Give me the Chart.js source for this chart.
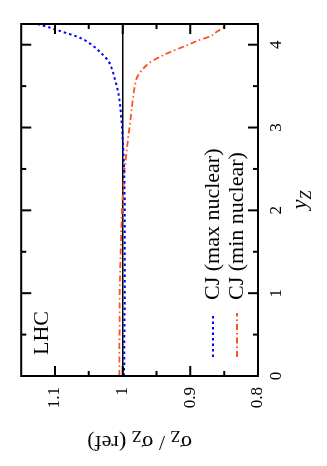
<!DOCTYPE html>
<html>
<head>
<meta charset="utf-8">
<script src="https://cdn.jsdelivr.net/npm/chart.js"></script>
<style>
  html, body { margin: 0; padding: 0; background: #fff; overflow: hidden; }
  body { width: 327px; height: 466px; position: relative; }
  /* the plot is drawn landscape and turned a quarter to the left */
  #wrap {
    position: absolute; left: 0; top: 0; width: 466px; height: 327px;
    transform-origin: 0 0; transform: translate(0, 466px) rotate(-90deg);
  }
</style>
</head>
<body>
<div id="wrap"><canvas id="ratioChart" width="466" height="327"></canvas></div>

<script>
    // rapidity points and the two ratio curves
    var yZ = [0, 0.5, 1, 1.5, 2, 2.5, 3, 3.2, 3.4, 3.5, 3.6, 3.7, 3.8, 3.9, 4.0, 4.05, 4.1, 4.15, 4.2, 4.25];
    var maxNuclear = [0.998, 0.9975, 0.997, 0.997, 0.997, 0.998, 1.001, 1.003, 1.006, 1.0088, 1.012, 1.0156, 1.021, 1.032, 1.046, 1.055, 1.068, 1.087, 1.105, 1.126];
    var minNuclear = [1.005, 1.0047, 1.0044, 1.003, 1.001, 0.997, 0.990, 0.987, 0.984, 0.982, 0.979, 0.971, 0.957, 0.933, 0.903, 0.889, 0.871, 0.862, 0.853, 0.846];

    var xTicks = [0, 1, 2, 3, 4];
    var xTickLabels = ['0', '1', '2', '3', '4'];
    var xMinor = [0.5, 1.5, 2.5, 3.5];
    var yTicks = [0.8, 0.9, 1, 1.1];
    var yTickLabels = ['0.8', '0.9', '1', '1.1'];
    var yMinor = [0.85, 0.95, 1.05];

    var seriesNames = ['CJ (max nuclear)', 'CJ (min nuclear)'];
    var serif = "'Liberation Serif', 'Times New Roman', serif";

    function pts(vals) {
        return yZ.map(function (v, i) { return { x: v, y: vals[i] }; });
    }

    // text with a subscript, pieces = [[text, isSub], ...]
    function drawPieces(ctx, pieces, x, y, size, subSize, italic, align) {
        var st = italic ? 'italic ' : '';
        var total = 0;
        pieces.forEach(function (p) {
            ctx.font = st + (p[1] ? subSize : size) + 'px ' + serif;
            total += ctx.measureText(p[0]).width;
        });
        var cx = align === 'center' ? x - total / 2 : x;
        pieces.forEach(function (p) {
            ctx.font = st + (p[1] ? subSize : size) + 'px ' + serif;
            ctx.fillText(p[0], cx, y + (p[1] ? 5 : 0));
            cx += ctx.measureText(p[0]).width;
        });
    }

    var framePlugin = {
        id: 'frame',
        afterDraw: function (chart) {
            var ctx = chart.ctx, a = chart.chartArea;
            var x = chart.scales.x, y = chart.scales.y;
            ctx.save();
            ctx.strokeStyle = '#000';
            ctx.lineWidth = 2;
            ctx.setLineDash([]);
            ctx.strokeRect(a.left, a.top, a.right - a.left, a.bottom - a.top);

            // inward ticks on all four sides
            ctx.beginPath();
            xTicks.concat(xMinor).forEach(function (v) {
                var px = x.getPixelForValue(v);
                var len = xTicks.indexOf(v) >= 0 ? 10 : 5;
                ctx.moveTo(px, a.bottom); ctx.lineTo(px, a.bottom - len);
                ctx.moveTo(px, a.top); ctx.lineTo(px, a.top + len);
            });
            yTicks.concat(yMinor).forEach(function (v) {
                var py = y.getPixelForValue(v);
                var len = yTicks.indexOf(v) >= 0 ? 10 : 5;
                ctx.moveTo(a.left, py); ctx.lineTo(a.left + len, py);
                ctx.moveTo(a.right, py); ctx.lineTo(a.right - len, py);
            });
            ctx.stroke();

            ctx.fillStyle = '#000';
            ctx.textBaseline = 'alphabetic';
            ctx.textAlign = 'left';

            // LHC label
            ctx.font = '22px ' + serif;
            ctx.fillText('LHC', 111, 48);

            // key
            var keys = [
                { color: '#0000ff', dash: [2.5, 3], width: 2, yy: 213 },
                { color: '#ff5020', dash: [6, 3, 1.5, 3], width: 1.8, yy: 237 }
            ];
            keys.forEach(function (k, i) {
                ctx.strokeStyle = k.color;
                ctx.lineWidth = k.width;
                ctx.setLineDash(k.dash);
                ctx.beginPath();
                ctx.moveTo(109, k.yy); ctx.lineTo(153, k.yy);
                ctx.stroke();
                ctx.setLineDash([]);
                ctx.font = '22px ' + serif;
                ctx.textBaseline = 'middle';
                ctx.fillText(seriesNames[i], 166, k.yy);
            });

            // axis titles
            ctx.textBaseline = 'alphabetic';
            drawPieces(ctx, [['y', false], ['Z', true]], (a.left + a.right) / 2, 306, 22, 16, true, 'center');

            ctx.translate(30, (a.top + a.bottom) / 2);
            ctx.rotate(-Math.PI / 2);
            drawPieces(ctx, [['\u03c3', false], ['Z', true], [' / \u03c3', false], ['Z', true], [' (ref)', false]], 0, 0, 22, 16, false, 'center');
            ctx.restore();
        }
    };

    var ctx = document.getElementById('ratioChart').getContext('2d');
    var ratioChart = new Chart(ctx, {
        type: 'line',
        data: {
            datasets: [{
                label: seriesNames[0],
                data: pts(maxNuclear),
                borderColor: '#0000ff',
                borderWidth: 2,
                borderDash: [2.5, 3],
                pointRadius: 0,
                cubicInterpolationMode: 'monotone',
                order: 1
            }, {
                label: seriesNames[1],
                data: pts(minNuclear),
                borderColor: '#ff5020',
                borderWidth: 1.8,
                borderDash: [6, 3, 1.5, 3],
                pointRadius: 0,
                cubicInterpolationMode: 'monotone',
                order: 2
            }, {
                label: 'ref',
                data: [{ x: 0, y: 1 }, { x: 4.25, y: 1 }],
                borderColor: '#000',
                borderWidth: 1.5,
                pointRadius: 0,
                order: 3
            }]
        },
        options: {
            responsive: false,
            animation: false,
            devicePixelRatio: 1,
            layout: { padding: { left: 0, top: 20, right: 24, bottom: 0 } },
            plugins: {
                legend: { display: false },
                tooltip: { enabled: false }
            },
            scales: {
                x: {
                    type: 'linear',
                    min: 0,
                    max: 4.25,
                    grid: { display: false, drawTicks: false },
                    border: { display: false },
                    afterFit: function (s) { s.height = 69; },
                    afterBuildTicks: function (s) { s.ticks = xTicks.map(function (v) { return { value: v }; }); },
                    ticks: {
                        padding: 8,
                        color: '#000',
                        maxRotation: 0,
                        autoSkip: false,
                        font: { family: serif, size: 17 },
                        callback: function (v, i) { return xTickLabels[i]; }
                    }
                },
                y: {
                    type: 'linear',
                    min: 0.8,
                    max: 1.15,
                    grid: { display: false, drawTicks: false },
                    border: { display: false },
                    afterFit: function (s) { s.width = 90; },
                    afterBuildTicks: function (s) { s.ticks = yTicks.map(function (v) { return { value: v }; }); },
                    ticks: {
                        padding: 11,
                        color: '#000',
                        autoSkip: false,
                        font: { family: serif, size: 17 },
                        callback: function (v, i) { return yTickLabels[i]; }
                    }
                }
            }
        },
        plugins: [framePlugin]
    });
</script>
</body>
</html>
